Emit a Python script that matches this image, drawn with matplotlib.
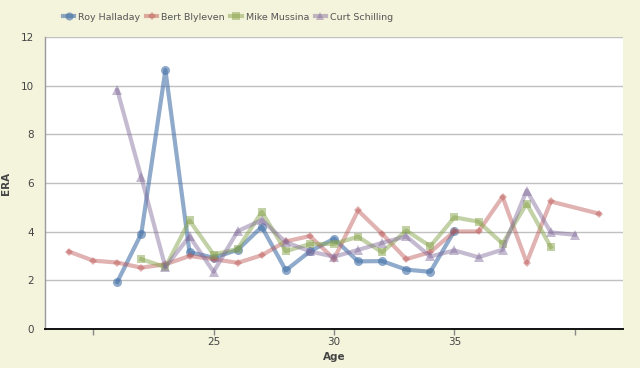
import matplotlib
matplotlib.use("Agg")
import matplotlib.pyplot as plt
import numpy as np

# Data
halladay_age = [21, 22, 23, 24, 25, 26, 27, 28, 29, 30, 31, 32, 33, 34, 35]
halladay_era = [1.93, 3.92, 10.64, 3.16, 2.93, 3.25, 4.20, 2.41, 3.19, 3.71, 2.78, 2.79, 2.44, 2.35, 4.03]

blyleven_age = [19, 20, 21, 22, 23, 24, 25, 26, 27, 28, 29, 30, 31, 32, 33, 34, 35, 36, 37, 38, 39, 41]
blyleven_era = [3.18, 2.81, 2.73, 2.52, 2.66, 3.00, 2.87, 2.72, 3.03, 3.60, 3.82, 2.88, 4.87, 3.91, 2.87, 3.16, 4.01, 4.01, 5.43, 2.73, 5.24, 4.74]

mussina_age = [22, 23, 24, 25, 26, 27, 28, 29, 30, 31, 32, 33, 34, 35, 36, 37, 38, 39]
mussina_era = [2.87, 2.54, 4.46, 3.06, 3.29, 4.81, 3.20, 3.49, 3.50, 3.79, 3.15, 4.05, 3.40, 4.59, 4.41, 3.51, 5.15, 3.37]

schilling_age = [21, 22, 23, 24, 25, 26, 27, 28, 29, 30, 31, 32, 33, 34, 35, 36, 37, 38, 39, 40]
schilling_era = [9.82, 6.23, 2.54, 3.81, 2.35, 4.02, 4.48, 3.57, 3.19, 2.97, 3.25, 3.54, 3.81, 2.98, 3.23, 2.95, 3.26, 5.69, 3.97, 3.87]

x_ticks = [20, 25, 30, 35, 40]
x_tick_labels = ["", "25", "30", "35", ""]
y_ticks = [0, 2, 4, 6, 8, 10, 12]

series = [
    ("Roy Halladay", halladay_age, halladay_era, "#4572A7", "o", 6.5, 0.6),
    ("Bert Blyleven", blyleven_age, blyleven_era, "#BB5552", "D", 4.5, 0.45),
    ("Mike Mussina", mussina_age, mussina_era, "#89A54E", "s", 6, 0.5),
    ("Curt Schilling", schilling_age, schilling_era, "#80699B", "^", 6.5, 0.45),
]

plt.rcParams['font.family'] = ['DejaVu Sans']
fig = plt.figure(figsize=(6.4, 3.68), dpi=100, facecolor="#F4F3DC")
ax = fig.add_axes([45/640, 1 - 329/368, (623 - 45)/640, (329 - 37)/368])
ax.set_facecolor("white")

for name, xs, ys, col, mk, ms, a in series:
    ax.plot(xs, ys, color=col, alpha=a, lw=3.0, marker=mk, markersize=ms,
            markeredgewidth=0, label=name, solid_joinstyle="round", zorder=3)

ax.set_xlim(18, 42)
ax.set_ylim(0, 12)
ax.set_yticks(y_ticks)
ax.set_yticklabels([str(v) for v in y_ticks])
ax.set_xticks(x_ticks)
ax.set_xticklabels(x_tick_labels)
ax.grid(axis="y", color="#C0C0C0", lw=1)
ax.set_axisbelow(True)

for s in ["top", "right"]:
    ax.spines[s].set_visible(False)
ax.spines["left"].set_color("#9A9A9A")
ax.spines["left"].set_linewidth(1)
ax.spines["bottom"].set_color("#111111")
ax.spines["bottom"].set_linewidth(1.4)

ax.tick_params(axis="y", length=0, pad=8, labelsize=7.5, labelcolor="#444444")
ax.tick_params(axis="x", length=4, width=1, color="#888888", direction="out",
               pad=2, labelsize=7.5, labelcolor="#444444")

ax.set_xlabel("Age", fontsize=7.5, fontweight="bold", color="#444444")
ax.set_ylabel("ERA", fontsize=7.5, fontweight="bold", color="#444444")
ax.xaxis.set_label_coords((334 - 45) / 578, -(352 - 329) / 292)
ax.yaxis.set_label_coords(-(45 - 11) / 578, 0.5)

handles, labels = ax.get_legend_handles_labels()
fig.legend(handles, labels, loc="center", bbox_to_anchor=(228/640, 1 - 17/368),
           ncol=4, frameon=False, fontsize=6.8, labelcolor="#555555",
           handlelength=1.2, handletextpad=0.4, columnspacing=0.6, borderaxespad=0,
           markerscale=0.9)

fig.savefig("out.png", dpi=100, facecolor=fig.get_facecolor())
